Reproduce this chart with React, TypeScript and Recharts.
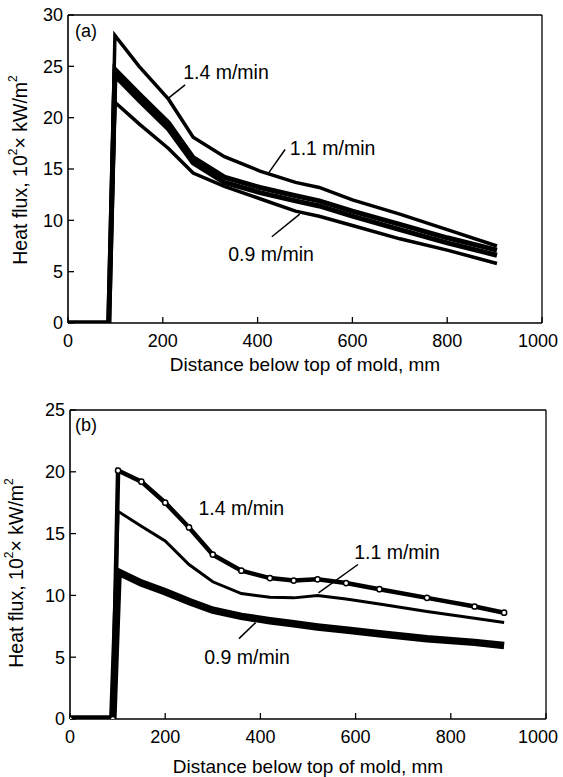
import React from 'react';
import { LineChart, Line, XAxis, YAxis, ReferenceLine, ReferenceDot } from 'recharts';

const FONT = '"Liberation Sans", Arial, Helvetica, sans-serif';

// panel (a): distance below top of mold (mm) and heat flux (10^2 kW/m^2)
const distA = [0, 86, 99, 150, 212, 264, 330, 405, 480, 530, 600, 700, 800, 905];
const fluxA14 = [0, 0, 28.0, 25.0, 21.8, 18.1, 16.2, 14.8, 13.7, 13.2, 12.0, 10.6, 9.1, 7.5];
const fluxA11u = [0, 0, 24.7, 22.3, 19.5, 16.1, 14.2, 13.2, 12.4, 11.9, 10.9, 9.6, 8.3, 7.1];
const fluxA11l = [0, 0, 24.1, 21.7, 18.9, 15.6, 13.7, 12.7, 11.9, 11.4, 10.4, 9.1, 7.8, 6.6];
const fluxA09 = [0, 0, 21.5, 19.4, 17.0, 14.6, 13.3, 12.1, 10.9, 10.4, 9.5, 8.2, 7.1, 5.8];

// panel (b)
const distB = [0, 90, 101, 150, 200, 250, 300, 360, 420, 470, 520, 580, 650, 750, 850, 912];
const fluxB14 = [0, 0, 20.1, 19.2, 17.5, 15.5, 13.3, 12.0, 11.4, 11.2, 11.3, 11.0, 10.5, 9.8, 9.1, 8.6];
const fluxB11 = [0, 0, 16.8, 15.6, 14.4, 12.5, 11.1, 10.15, 9.85, 9.8, 10.0, 9.7, 9.3, 8.7, 8.15, 7.8];
const fluxB09 = [0, 0, 11.9, 11.0, 10.3, 9.5, 8.8, 8.3, 7.95, 7.7, 7.45, 7.2, 6.9, 6.5, 6.2, 5.95];

const xTicks = [0, 200, 400, 600, 800, 1000];
const yTicksA = [0, 5, 10, 15, 20, 25, 30];
const yTicksB = [0, 5, 10, 15, 20, 25];

const notesA = [
  { text: '1.4 m/min', x: 243, y: 24.4 },
  { text: '1.1 m/min', x: 468, y: 17.0 },
  { text: '0.9 m/min', x: 338, y: 6.7 },
];
const leadersA = [
  [{ x: 247, y: 23.2 }, { x: 212, y: 21.9 }],
  [{ x: 458, y: 16.9 }, { x: 423, y: 14.6 }],
  [{ x: 430, y: 8.4 }, { x: 489, y: 10.6 }],
];
const notesB = [
  { text: '1.4 m/min', x: 270, y: 17.1 },
  { text: '1.1 m/min', x: 597, y: 13.5 },
  { text: '0.9 m/min', x: 282, y: 5.0 },
];
const leadersB = [
  [{ x: 605, y: 12.5 }, { x: 522, y: 10.2 }],
  [{ x: 355, y: 6.5 }, { x: 390, y: 7.8 }],
];

const rowsA = distA.map((x, i) => ({ x, s14: fluxA14[i], s11u: fluxA11u[i], s11l: fluxA11l[i], s09: fluxA09[i] }));
const rowsB = distB.map((x, i) => ({ x, s14: fluxB14[i], s11: fluxB11[i], s09: fluxB09[i] }));

// keeps the "1000" label inside the page
const XTick = ({ x, y, payload }: any) => {
  const s = String(payload.value);
  const half = s.length * 5;
  const cx = Math.min(x, 558 - half);
  return (
    <text x={cx} y={y} dy="0.71em" textAnchor="middle" fontSize={18} fill="#000">
      {s}
    </text>
  );
};

const YTitle = ({ cx, cy }: { cx: number; cy: number }) => (
  <text x={cx} y={cy} transform={`rotate(-90 ${cx} ${cy})`} textAnchor="middle" dominantBaseline="central" fontSize={19.5} fill="#000">
    Heat flux, 10<tspan dy={-7} fontSize={12}>2</tspan>
    <tspan dy={7}>× kW/m</tspan>
    <tspan dy={-7} fontSize={12}>2</tspan>
  </text>
);

interface PanelProps {
  top: number;
  height: number;
  left: number;
  right: number;
  plotTop: number;
  plotBottom: number;
  rows: any[];
  yMax: number;
  yTicks: number[];
  notes: { text: string; x: number; y: number }[];
  leaders: { x: number; y: number }[][];
  tag: string;
  tagAt: { x: number; y: number };
  yTitleAt: { x: number; y: number };
  xTitleY: number;
  children?: React.ReactNode;
}

function Panel(p: PanelProps) {
  const xTitleX = (p.left + p.right) / 2;
  return (
    <div style={{ position: 'absolute', left: 0, top: p.top }}>
      <LineChart
        width={563}
        height={p.height}
        data={p.rows}
        margin={{ top: p.plotTop, right: 563 - p.right, left: 0, bottom: 0 }}
      >
        <XAxis
          type="number"
          dataKey="x"
          domain={[0, 1000]}
          ticks={xTicks}
          height={p.height - p.plotBottom}
          tickSize={-6}
          tickMargin={17}
          tick={<XTick />}
          axisLine={{ stroke: '#000', strokeWidth: 1.6 }}
          tickLine={{ stroke: '#000', strokeWidth: 1.3 }}
          allowDataOverflow
          label={{
            content: () => (
              <text x={xTitleX} y={p.xTitleY} textAnchor="middle" dominantBaseline="central" fontSize={19} fill="#000">
                Distance below top of mold, mm
              </text>
            ),
          }}
        />
        <YAxis
          type="number"
          domain={[0, p.yMax]}
          ticks={p.yTicks}
          width={p.left}
          tickSize={-6}
          tickMargin={11}
          tick={{ fontSize: 18, fill: '#000' }}
          axisLine={{ stroke: '#000', strokeWidth: 1.6 }}
          tickLine={{ stroke: '#000', strokeWidth: 1.3 }}
          allowDataOverflow
          label={{ content: () => <YTitle cx={p.yTitleAt.x} cy={p.yTitleAt.y} /> }}
        />
        <ReferenceLine y={p.yMax} stroke="#000" strokeWidth={1.3} />
        <ReferenceLine x={1000} stroke="#000" strokeWidth={1.3} />
        {p.children}
        {p.leaders.map((seg, i) => (
          <ReferenceLine key={'l' + i} segment={seg} stroke="#000" strokeWidth={1.5} />
        ))}
        {p.notes.map((n) => (
          <ReferenceDot
            key={n.text}
            x={n.x}
            y={n.y}
            r={0}
            fill="none"
            stroke="none"
            label={{ value: n.text, position: 'right', offset: 0, fontSize: 19.5, fill: '#000' }}
          />
        ))}
        <ReferenceDot
          x={p.tagAt.x}
          y={p.tagAt.y}
          r={0}
          fill="none"
          stroke="none"
          label={{ value: p.tag, position: 'right', offset: 0, fontSize: 18, fill: '#000' }}
        />
      </LineChart>
    </div>
  );
}

export default function App() {
  return (
    <div style={{ position: 'absolute', left: 0, top: 0, width: 563, height: 777, background: '#fff', fontFamily: FONT }}>
      <Panel
        top={0}
        height={390}
        left={68}
        right={542}
        plotTop={15}
        plotBottom={323}
        rows={rowsA}
        yMax={30}
        yTicks={yTicksA}
        notes={notesA}
        leaders={leadersA}
        tag="(a)"
        tagAt={{ x: 15, y: 28.5 }}
        yTitleAt={{ x: 19.5, y: 170 }}
        xTitleY={364}
      >
        <Line type="linear" dataKey="s14" stroke="#000" strokeWidth={3.5} dot={false} isAnimationActive={false} />
        <Line type="linear" dataKey="s11u" stroke="#000" strokeWidth={5} dot={false} isAnimationActive={false} />
        <Line type="linear" dataKey="s11l" stroke="#000" strokeWidth={5} dot={false} isAnimationActive={false} />
        <Line type="linear" dataKey="s09" stroke="#000" strokeWidth={3.5} dot={false} isAnimationActive={false} />
      </Panel>
      <Panel
        top={390}
        height={387}
        left={70}
        right={546}
        plotTop={20}
        plotBottom={329}
        rows={rowsB}
        yMax={25}
        yTicks={yTicksB}
        notes={notesB}
        leaders={leadersB}
        tag="(b)"
        tagAt={{ x: 10.5, y: 23.8 }}
        yTitleAt={{ x: 16, y: 183 }}
        xTitleY={376}
      >
        <Line type="linear" dataKey="s09" stroke="#000" strokeWidth={7.5} dot={false} isAnimationActive={false} />
        <Line type="linear" dataKey="s11" stroke="#000" strokeWidth={3} dot={false} isAnimationActive={false} />
        <Line
          type="linear"
          dataKey="s14"
          stroke="#000"
          strokeWidth={4.5}
          dot={{ r: 2.6, fill: '#fff', stroke: '#000', strokeWidth: 1.5 }}
          isAnimationActive={false}
        />
      </Panel>
    </div>
  );
}
